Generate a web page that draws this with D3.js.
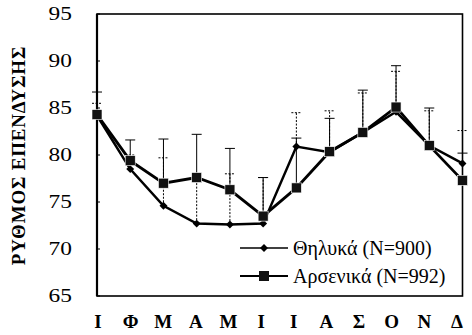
<!DOCTYPE html>
<html><head><meta charset="utf-8">
<script src="https://cdn.jsdelivr.net/npm/d3@7"></script>
<style>body{margin:0;background:#fff}svg{display:block}</style>
</head><body>
<svg id="c" width="472" height="335"></svg>
<script>
const months = ["Ι","Φ","Μ","Α","Μ","Ι","Ι","Α","Σ","Ο","Ν","Δ"];
const female = [84.2, 78.5, 74.6, 72.7, 72.6, 72.7, 80.9, 80.3, 82.4, 84.6, 81.0, 79.1];
const male = [84.3, 79.4, 77.0, 77.6, 76.3, 73.5, 76.5, 80.35, 82.4, 85.1, 81.0, 77.3];
const femaleUpper = [85.5, 80.0, 79.7, 77.5, 78.0, 77.6, 84.5, 84.7, 86.6, 88.9, 84.7, 82.6];
const maleUpper = [86.7, 81.6, 81.7, 82.2, 80.7, 77.6, 81.8, 83.9, 86.9, 89.5, 85.0, 80.2];
const yTicks = [65, 70, 75, 80, 85, 90, 95];
const yTitle = "ΡΥΘΜΟΣ ΕΠΕΝΔΥΣΗΣ";
const legendLabels = ["Θηλυκά (N=900)", "Αρσενικά (N=992)"];

const W = 472, H = 335;
const m = {l: 97, r: 9.5, t: 14, b: 39};
const svg = d3.select("#c");
const idx = months.map((d, i) => i);
const x = d3.scalePoint().domain(idx).range([m.l, W - m.r]);
const xLab = d3.scalePoint().domain(idx).range([98, 457]);
const y = d3.scaleLinear().domain([65, 95]).range([H - m.b, m.t]);
const serif = "'Times New Roman', serif";

// frame
svg.append("rect").attr("x", m.l).attr("y", m.t)
  .attr("width", W - m.r - m.l).attr("height", H - m.b - m.t)
  .attr("fill", "none").attr("stroke", "#000").attr("stroke-width", 1.6);
svg.append("line").attr("x1", m.l).attr("x2", m.l).attr("y1", m.t).attr("y2", H - m.b)
  .attr("stroke", "#000").attr("stroke-width", 2.2);

// y ticks
const yAxis = svg.append("g");
yAxis.selectAll("line").data(yTicks).join("line")
  .attr("x1", m.l).attr("x2", m.l + 3).attr("y1", d => y(d)).attr("y2", d => y(d))
  .attr("stroke", "#000").attr("stroke-width", 1);
yAxis.selectAll("text").data(yTicks).join("text")
  .attr("transform", d => `translate(72,${y(d)}) scale(1.3,1)`)
  .attr("text-anchor", "end").attr("dominant-baseline", "central")
  .attr("font-family", serif).attr("font-size", 18).text(d => d);

// y title
svg.append("text").attr("transform", `translate(25,155.5) rotate(-90)`)
  .attr("text-anchor", "middle").attr("font-family", serif).attr("font-weight", "bold")
  .attr("font-size", 19).attr("letter-spacing", 0.8).text(yTitle);

// x labels
svg.append("g").selectAll("text").data(idx).join("text")
  .attr("x", d => xLab(d)).attr("y", 328).attr("text-anchor", "middle")
  .attr("font-family", serif).attr("font-weight", "bold").attr("font-size", 19)
  .text(d => months[d]);

// error bars
const cap = 5;
function errBars(vals, upp, dash) {
  const g = svg.append("g").attr("stroke", "#000").attr("stroke-width", 1)
    .attr("stroke-dasharray", dash);
  g.selectAll("line.v").data(idx).join("line").attr("class", "v")
    .attr("x1", d => x(d)).attr("x2", d => x(d))
    .attr("y1", d => y(vals[d])).attr("y2", d => y(upp[d]));
  g.selectAll("line.c").data(idx).join("line").attr("class", "c")
    .attr("x1", d => x(d) - cap).attr("x2", d => x(d) + cap)
    .attr("y1", d => y(upp[d])).attr("y2", d => y(upp[d]));
}
errBars(female, femaleUpper, "2,1.5");
errBars(male, maleUpper, null);

const line = d3.line().x((d, i) => x(i)).y(d => y(d));
svg.append("path").datum(female).attr("d", line).attr("fill", "none")
  .attr("stroke", "#000").attr("stroke-width", 2.5);
svg.append("path").datum(male).attr("d", line).attr("fill", "none")
  .attr("stroke", "#000").attr("stroke-width", 2.8);

const diamond = d3.symbol().type(d3.symbolDiamond2).size(40);
svg.append("g").selectAll("path").data(idx).join("path")
  .attr("transform", d => `translate(${x(d)},${y(female[d])})`)
  .attr("d", diamond).attr("fill", "#000");
const sq = 10;
svg.append("g").selectAll("rect").data(idx).join("rect")
  .attr("x", d => x(d) - sq / 2).attr("y", d => y(male[d]) - sq / 2)
  .attr("width", sq).attr("height", sq).attr("fill", "#111")
  .attr("stroke", "#fff").attr("stroke-width", 0.6);

// legend
const leg = svg.append("g");
const ly = [248, 276];
leg.append("line").attr("x1", 240).attr("x2", 288).attr("y1", ly[0]).attr("y2", ly[0])
  .attr("stroke", "#000").attr("stroke-width", 1.4);
leg.append("path").attr("transform", `translate(264,${ly[0]})`).attr("d", diamond).attr("fill", "#000");
leg.append("line").attr("x1", 240).attr("x2", 288).attr("y1", ly[1]).attr("y2", ly[1])
  .attr("stroke", "#000").attr("stroke-width", 2);
leg.append("rect").attr("x", 264 - sq / 2).attr("y", ly[1] - sq / 2).attr("width", sq).attr("height", sq).attr("fill", "#111");
leg.selectAll("text").data(legendLabels).join("text")
  .attr("x", 293).attr("y", (d, i) => ly[i]).attr("dominant-baseline", "central")
  .attr("font-family", serif).attr("font-size", 20).text(d => d);
</script>
</body></html>
